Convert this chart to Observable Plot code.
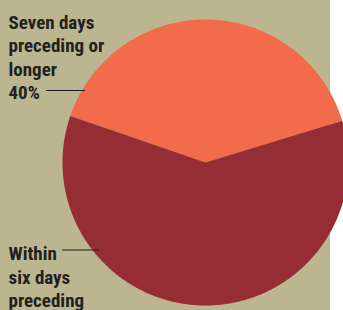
<!DOCTYPE html>
<html>
<head>
<meta charset="utf-8">
<script src="https://cdn.jsdelivr.net/npm/d3@7"></script>
<script src="https://cdn.jsdelivr.net/npm/@observablehq/plot@0.6"></script>
<style>
  html, body { margin: 0; padding: 0; background: #fff; }
  #chart { width: 343px; height: 310px; overflow: hidden; }
</style>
</head>
<body>
<div id="chart"></div>
<script>
// ---- data ----
const categories = ["Seven days preceding or longer", "Within six days preceding"];
const shares = [40, 60];
const labelLines = [
  ["Seven days", "preceding or", "longer", "40%"],
  ["Within", "six days", "preceding"]
];
const sliceColors = ["#f26b4a", "#962d35"];

// ---- layout (pixels) ----
const W = 343, H = 310;
const cx = 205, cy = 162, R = 143;
const startDeg = -71;
const font = "'Liberation Sans Narrow', 'Roboto Condensed', 'DejaVu Sans Condensed', sans-serif";
const labelLayout = [
  {dx: 8, dy: 11.5, leader: {y: 90, x1: 46, x2: 85}},
  {dx: 8, dy: 243, leader: {y: 249.5, x1: 62, x2: 99}}
];

// pixel -> data helpers for the polar unit square
const toX = px => (px - cx) / R;
const toY = py => (cy - py) / R;

const table = categories.map((c, i) => ({category: c, share: shares[i]}));
const arcs = d3.pie().sort(null).value(d => d.share)
  .startAngle(startDeg * Math.PI / 180)
  .endAngle(startDeg * Math.PI / 180 + 2 * Math.PI)(table);

const points = [];
arcs.forEach(a => {
  const cat = a.data.category;
  points.push({category: cat, x: 0, y: 0});
  const n = Math.max(2, Math.ceil((a.endAngle - a.startAngle) / (Math.PI / 360)));
  for (let k = 0; k <= n; k++) {
    const t = a.startAngle + (a.endAngle - a.startAngle) * k / n;
    points.push({category: cat, x: Math.sin(t), y: Math.cos(t)});
  }
});

const leaders = labelLayout.map(l => ({
  x1: toX(l.leader.x1), x2: toX(l.leader.x2), y: toY(l.leader.y)
}));

const textMarks = labelLines.map((lines, i) =>
  Plot.text([lines.join("\n")], {
    text: d => d,
    frameAnchor: "top-left",
    textAnchor: "start",
    lineAnchor: "top",
    lineHeight: 1.24,
    dx: labelLayout[i].dx,
    dy: labelLayout[i].dy,
    fontSize: 19,
    fontWeight: "bold",
    fill: "#231f20"
  })
);

const chart = Plot.plot({
  width: W,
  height: H,
  margin: 0,
  x: {domain: [-1, 1], range: [cx - R, cx + R], axis: null},
  y: {domain: [-1, 1], range: [cy + R, cy - R], axis: null},
  color: {domain: categories, range: sliceColors},
  style: {
    background: "linear-gradient(to right, #bbb590 330px, #ffffff 330px)",
    fontFamily: font,
    overflow: "hidden"
  },
  marks: [
    Plot.line(points, {x: "x", y: "y", z: "category", fill: "category", stroke: null, curve: "linear-closed"}),
    Plot.ruleY(leaders, {y: "y", x1: "x1", x2: "x2", stroke: "#231f20", strokeWidth: 1}),
    ...textMarks
  ]
});
document.getElementById("chart").appendChild(chart);
</script>
</body>
</html>
